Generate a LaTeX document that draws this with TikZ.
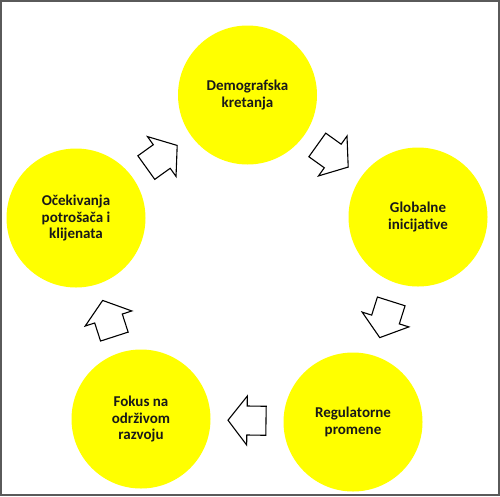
\documentclass[tikz,border=0pt]{standalone}
\usepackage{fontspec}
\setmainfont{Carlito}
\usetikzlibrary{calc}
\definecolor{cyel}{RGB}{255,255,0}
\definecolor{frame}{RGB}{90,90,90}
\tikzset{
  x=1pt, y=-1pt,
  stage/.style={circle, fill=cyel, minimum size=139pt, inner sep=0pt, align=center,
    font=\fontsize{15}{16.5}\selectfont\bfseries, text=black!90},
  arrowline/.style={draw=black, fill=white, line width=1.1pt, line join=miter},
  blockarrow/.pic={\path[arrowline] (-19,-14.5) -- (0,-14.5) -- (0,-24.5) -- (19,0) -- (0,24.5) -- (0,14.5) -- (-19,14.5) -- cycle;}
}
\begin{document}
\begin{tikzpicture}
\useasboundingbox (0,0) rectangle (500,496);
\draw[frame, line width=2pt] (1,1) rectangle (499,495);
\node[stage] (dem) at (247.5,95) {Demografska\\kretanja};
\node[stage] (glo) at (418,217) {Globalne\\inicijative};
\node[stage] (reg) at (353,422) {Regulatorne\\promene};
\node[stage] (fok) at (141,419) {Fokus na\\održivom\\razvoju};
\node[stage] (oce) at (76,218) {Očekivanja\\potrošača i\\klijenata};
\path (dem.center) -- pic[pos=0.5, sloped, allow upside down] {blockarrow} (glo.center);
\path (glo.center) -- pic[pos=0.5, sloped, allow upside down] {blockarrow} (reg.center);
\path (reg.center) -- pic[pos=0.5, sloped, allow upside down] {blockarrow} (fok.center);
\path (fok.center) -- pic[pos=0.5, sloped, allow upside down] {blockarrow} (oce.center);
\path (oce.center) -- pic[pos=0.5, sloped, allow upside down] {blockarrow} (dem.center);
\end{tikzpicture}
\end{document}
